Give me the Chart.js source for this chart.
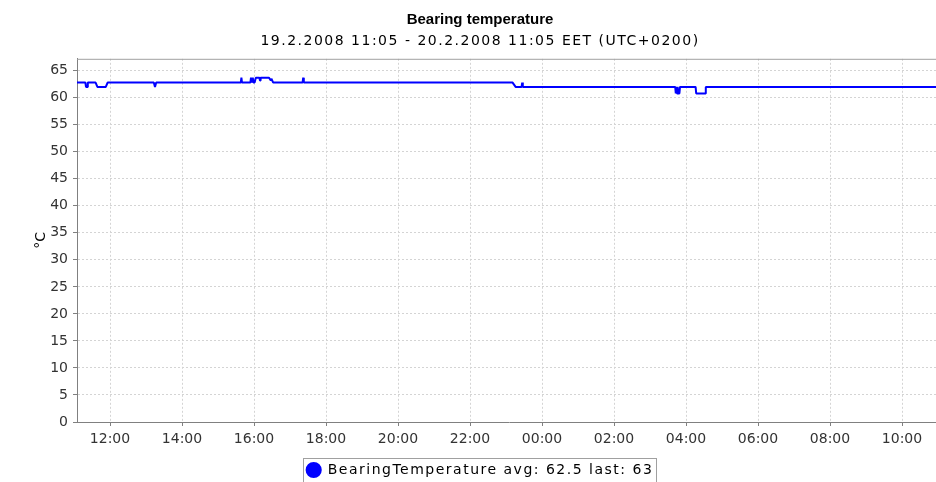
<!DOCTYPE html>
<html>
<head>
<meta charset="utf-8">
<script src="https://cdn.jsdelivr.net/npm/chart.js@4/dist/chart.umd.min.js"></script>
<style>
  html, body { margin: 0; padding: 0; background: #fff; overflow: hidden; }
  #wrap { width: 936px; height: 482px; overflow: hidden; }
  canvas { display: block; }
</style>
</head>
<body>
<div id="wrap"><canvas id="chart" width="956" height="487"></canvas></div>
<script>
// ---------- Data ----------
const titleText = "Bearing temperature";
const subtitleText = "19.2.2008 11:05 - 20.2.2008 11:05 EET (UTC+0200)";
const yTitle = "°C";
const seriesLabel = "BearingTemperature avg: 62.5 last: 63";
const startTime = "11:05";

const yTicks = [0, 5, 10, 15, 20, 25, 30, 35, 40, 45, 50, 55, 60, 65];
const xTickLabels = ["12:00", "14:00", "16:00", "18:00", "20:00", "22:00",
                     "00:00", "02:00", "04:00", "06:00", "08:00", "10:00"];

// sample times (19.2 11:05 -> 20.2 11:05)
const times = [
  "11:05", "11:19", "11:20", "11:22", "11:23", "11:36", "11:39", "11:53", "11:56",
  "13:13", "13:15", "13:17",
  "15:38", "15:39", "15:40", "15:54", "15:55", "15:56", "15:58", "15:59", "16:01",
  "16:03", "16:09", "16:10", "16:11", "16:25", "16:28", "16:29", "16:32",
  "17:21", "17:22", "17:23",
  "23:11", "23:16", "23:26", "23:27", "23:28",
  "03:42", "03:43", "03:44", "03:45", "03:46", "03:47", "03:49", "03:50",
  "04:16", "04:17", "04:32", "04:33",
  "11:05"
];
const temps = [
  62.8, 62.8, 62.0, 62.0, 62.8, 62.8, 62.0, 62.0, 62.8,
  62.8, 62.0, 62.8,
  62.8, 63.7, 62.8, 62.8, 63.7, 62.8, 63.7, 62.8, 62.8,
  63.7, 63.7, 63.2, 63.7, 63.7, 63.2, 63.5, 62.8,
  62.8, 63.7, 62.8,
  62.8, 62.0, 62.0, 62.8, 62.0,
  62.0, 60.8, 62.0, 60.8, 62.0, 60.8, 60.8, 62.0,
  62.0, 60.8, 60.8, 62.0,
  62.0
];

// ---------- Helpers ----------
const clockMin = t => { const [h, m] = t.split(":").map(Number); return h * 60 + m; };
const sinceStart = t => { let v = clockMin(t) - clockMin(startTime); if (v < 0) v += 1440; return v; };

const points = [];
let prev = -1;
times.forEach((t, i) => {
  let x = sinceStart(t);
  if (x < prev) x += 1440;   // crossed midnight / end of window
  prev = x;
  points.push({ x, y: temps[i] });
});

const xTickMap = {};
xTickLabels.forEach(l => { xTickMap[sinceStart(l)] = l; });

const CANVAS_H = 487;
const PLOT_BOTTOM = 422;
const PAD_L = 19, PLOT_LEFT = 77;

// ---------- Plugins ----------
// wider letter spacing for subtitle + legend (java-ish text metrics)
const spaced = {
  id: "spaced",
  beforeLayout(chart) {
    chart.boxes.forEach(b => {
      if (b._spaced) return;
      const wants = b === chart.legend || (b.options && b.options.text === subtitleText);
      if (!wants) return;
      b._spaced = true;
      ["fit", "draw"].forEach(fn => {
        const orig = b[fn];
        b[fn] = function (...args) {
          const c = this.ctx;
          const old = c.letterSpacing;
          c.letterSpacing = "1.5px";
          const r = orig.apply(this, args);
          c.letterSpacing = old;
          return r;
        };
      });
    });
  }
};

const frame = {
  id: "frame",
  beforeDatasetsDraw(chart) {
    const { ctx, chartArea: a } = chart;
    ctx.save();
    ctx.strokeStyle = "#a0a0a0";
    ctx.lineWidth = 1;
    ctx.beginPath();
    ctx.moveTo(a.left, a.top + 0.5);
    ctx.lineTo(a.right, a.top + 0.5);
    ctx.moveTo(a.right - 0.5, a.top);
    ctx.lineTo(a.right - 0.5, a.bottom);
    ctx.stroke();
    ctx.restore();
  },
  afterDraw(chart) {
    const lg = chart.legend;
    if (!lg || !lg.legendHitBoxes.length) return;
    const h = lg.legendHitBoxes[0];
    const { ctx } = chart;
    ctx.save();
    ctx.strokeStyle = "#a0a0a0";
    ctx.lineWidth = 1;
    ctx.strokeRect(Math.round(h.left) - 3.5, Math.round(h.top) - 4.5, Math.round(h.width) + 6, Math.round(h.height) + 10);
    ctx.restore();
  }
};

// ---------- Chart ----------
Chart.defaults.font.family = "'DejaVu Sans', sans-serif";
Chart.defaults.color = "#333";

new Chart(document.getElementById("chart"), {
  type: "line",
  data: {
    datasets: [{
      label: seriesLabel,
      data: points,
      borderColor: "#0000ff",
      backgroundColor: "#0000ff",
      borderWidth: 2,
      borderJoinStyle: "bevel",
      pointRadius: 0,
      tension: 0,
      fill: false
    }]
  },
  options: {
    responsive: false,
    animation: false,
    layout: { padding: { left: PAD_L, right: 15, top: 0, bottom: 0 } },
    plugins: {
      title: {
        display: true, text: titleText, color: "#000",
        font: { family: "'Liberation Sans', sans-serif", size: 15, weight: "bold", lineHeight: 1.2 },
        padding: { top: 11, bottom: 3 }
      },
      subtitle: {
        display: true, text: subtitleText, color: "#000",
        font: { size: 14, lineHeight: 1.2 },
        padding: { top: 1, bottom: 9 }
      },
      legend: {
        position: "bottom",
        labels: {
          color: "#000",
          font: { size: 14, lineHeight: 1.2 },
          usePointStyle: true, pointStyle: "circle",
          boxWidth: 14, boxHeight: 10, padding: 10
        }
      },
      tooltip: { enabled: false }
    },
    scales: {
      x: {
        type: "linear", min: 0, max: 1440,
        afterBuildTicks: s => { s.ticks = xTickLabels.map(l => ({ value: sinceStart(l) })); },
        afterFit: s => { s.height = CANVAS_H - PLOT_BOTTOM - (s.chart.legend ? s.chart.legend.height : 30); },
        ticks: { callback: v => xTickMap[v] || "", font: { size: 14 }, padding: 5, maxRotation: 0, autoSkip: false },
        grid: { color: "#d4d4d4", tickColor: "#808080", tickLength: 4, tickBorderDash: [] },
        border: { color: "#808080", dash: [2, 2] }
      },
      y: {
        min: 0, max: 67.2,
        afterBuildTicks: s => { s.ticks = yTicks.map(v => ({ value: v })); },
        afterFit: s => { s.width = PLOT_LEFT - PAD_L; },
        ticks: { font: { size: 14 }, padding: 5 },
        title: { display: true, text: yTitle, color: "#000", font: { size: 14 }, padding: { top: 33 - PAD_L, bottom: 0 } },
        grid: { color: "#d4d4d4", tickColor: "#808080", tickLength: 4, tickBorderDash: [] },
        border: { color: "#808080", dash: [2, 2] }
      }
    }
  },
  plugins: [spaced, frame]
});
</script>
</body>
</html>
